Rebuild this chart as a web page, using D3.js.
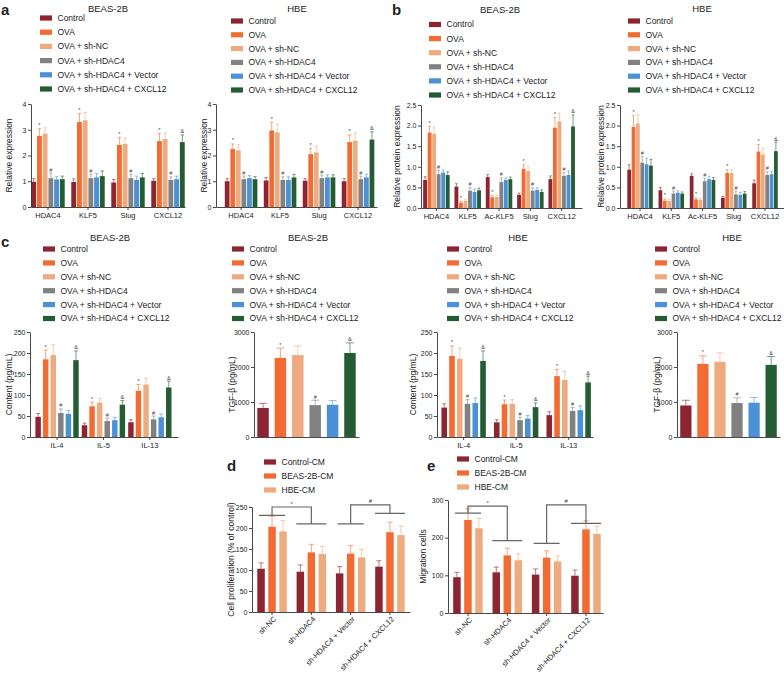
<!DOCTYPE html>
<html>
<head>
<meta charset="utf-8">
<script src="https://cdn.jsdelivr.net/npm/d3@7"></script>
<style>
  body { margin: 0; background: #fff; }
  svg { display: block; font-family: "Liberation Sans", Arial, sans-serif; }
</style>
</head>
<body>
<svg id="fig" width="784" height="679"></svg>
<script>
// ---- DATA ----
const groupNames = ["Control", "OVA", "OVA + sh-NC", "OVA + sh-HDAC4", "OVA + sh-HDAC4 + Vector", "OVA + sh-HDAC4 + CXCL12"];
const groupColors = ["#8c2431", "#f26b33", "#eeab80", "#818181", "#4b91d8", "#245c34"];
const cmNames = ["Control-CM", "BEAS-2B-CM", "HBE-CM"];
const cmColors = ["#8c2431", "#f26b33", "#eeab80"];

const genesA = ["HDAC4", "KLF5", "Slug", "CXCL12"];
const genesB = ["HDAC4", "KLF5", "Ac-KLF5", "Slug", "CXCL12"];
const cytokines = ["IL-4", "IL-5", "IL-13"];
const tgf = ["TGF-β"];
const treatments = ["sh-NC", "sh-HDAC4", "sh-HDAC4 + Vector", "sh-HDAC4 + CXCL12"];

const ticksA = [0, 1, 2, 3, 4];
const ticksB = [0, 0.5, 1, 1.5, 2, 2.5];
const ticksIL = [0, 50, 100, 150, 200, 250];
const ticksTGF = [0, 1000, 2000, 3000];
const ticksD = [0, 50, 100, 150, 200, 250];
const ticksE = [0, 100, 200, 300];

// significance marks above bars
const mk = ["", "*", "", "#", "", ""];
const mkC = ["", "*", "", "#", "", "&"];

// panel a
const aBeasMean = [[0.98, 2.76, 2.85, 1.12, 1.07, 1.08], [0.97, 3.30, 3.37, 1.12, 1.15, 1.20], [0.95, 2.41, 2.45, 1.12, 1.05, 1.15], [1.02, 2.56, 2.64, 1.05, 1.08, 2.52]];
const aBeasErr = [[0.12, 0.28, 0.23, 0.20, 0.12, 0.12], [0.12, 0.33, 0.30, 0.15, 0.15, 0.20], [0.12, 0.30, 0.23, 0.15, 0.15, 0.15], [0.08, 0.30, 0.23, 0.12, 0.12, 0.28]];
const aHbeMean = [[1.00, 2.25, 2.20, 1.08, 1.12, 1.08], [1.03, 2.97, 2.90, 1.05, 1.05, 1.15], [1.02, 2.05, 2.12, 1.12, 1.15, 1.15], [1.00, 2.52, 2.58, 1.08, 1.15, 2.62]];
const aHbeErr = [[0.10, 0.20, 0.22, 0.12, 0.10, 0.10], [0.12, 0.32, 0.32, 0.12, 0.12, 0.12], [0.08, 0.22, 0.25, 0.12, 0.10, 0.10], [0.10, 0.28, 0.30, 0.12, 0.12, 0.30]];
const aMarks = [mk, mk, mk, mkC];

// panel b
const bBeasMean = [[0.68, 1.83, 1.80, 0.82, 0.86, 0.80], [0.52, 0.13, 0.17, 0.42, 0.39, 0.43], [0.75, 0.26, 0.27, 0.63, 0.68, 0.70], [0.32, 0.95, 0.90, 0.42, 0.44, 0.39], [0.70, 1.95, 2.10, 0.78, 0.80, 1.98]];
const bBeasErr = [[0.08, 0.15, 0.17, 0.10, 0.06, 0.08], [0.07, 0.03, 0.03, 0.08, 0.07, 0.05], [0.06, 0.04, 0.04, 0.10, 0.05, 0.05], [0.04, 0.10, 0.12, 0.07, 0.05, 0.05], [0.08, 0.25, 0.20, 0.08, 0.10, 0.28]];
const bHbeMean = [[0.93, 1.97, 2.05, 1.10, 1.06, 1.03], [0.43, 0.18, 0.17, 0.35, 0.37, 0.35], [0.78, 0.21, 0.20, 0.65, 0.70, 0.68], [0.25, 0.85, 0.85, 0.33, 0.32, 0.35], [0.60, 1.37, 1.30, 0.80, 0.82, 1.38]];
const bHbeErr = [[0.12, 0.27, 0.22, 0.15, 0.15, 0.15], [0.07, 0.04, 0.04, 0.06, 0.05, 0.04], [0.05, 0.04, 0.04, 0.07, 0.07, 0.06], [0.03, 0.08, 0.08, 0.08, 0.06, 0.05], [0.08, 0.17, 0.15, 0.08, 0.07, 0.22]];
const bMarks = [mk, mk, mk, mk, mkC];

// panel c
const cBeasIL = [[48, 185, 195, 57, 55, 183], [28, 73, 82, 38, 40, 77], [35, 110, 125, 42, 47, 118]];
const cBeasILErr = [[8, 22, 25, 10, 8, 22], [5, 10, 10, 7, 7, 10], [6, 15, 15, 8, 8, 15]];
const cBeasTGF = [[830, 2260, 2340, 910, 920, 2400]];
const cBeasTGFErr = [[130, 280, 260, 140, 120, 290]];
const cHbeIL = [[70, 193, 186, 79, 81, 181], [35, 78, 79, 40, 44, 71], [52, 145, 136, 62, 64, 130]];
const cHbeILErr = [[9, 24, 26, 10, 12, 24], [6, 10, 10, 7, 7, 10], [8, 16, 20, 8, 10, 15]];
const cHbeTGF = [[900, 2090, 2150, 970, 980, 2060]];
const cHbeTGFErr = [[150, 230, 250, 150, 150, 240]];
const cMarksIL = [mkC, mkC, mkC];
const cMarksTGF = [mkC];

// panel d / e
const dMean = [[103, 203, 192], [96, 142, 138], [92, 139, 130], [108, 190, 183]];
const dErr = [[14, 25, 26], [16, 19, 18], [16, 19, 19], [14, 24, 22]];
const dBrackets = [{ from: 0, to: 1, left: 230, top: 250, right: 210, label: "*" }, { from: 2, to: 3, left: 210, top: 255, right: 235, label: "#" }];
const eMean = [[95, 247, 225], [108, 153, 140], [102, 147, 137], [99, 222, 210]];
const eErr = [[13, 30, 26], [14, 19, 17], [15, 18, 14], [15, 23, 20]];
const eBrackets = [{ from: 0, to: 1, left: 265, top: 284, right: 192, label: "*" }, { from: 2, to: 3, left: 185, top: 287, right: 238, label: "#" }];

// ---- DRAWING ----
const svg = d3.select("#fig");
const ink = "#222";

function label(x, y, str, size, opts = {}) {
  svg.append("text")
    .attr("x", x).attr("y", y)
    .attr("font-size", size)
    .attr("font-weight", opts.bold ? "bold" : null)
    .attr("text-anchor", opts.anchor || "start")
    .attr("fill", ink)
    .text(str);
}

function legend(x, y0, dy, names, colors) {
  const rows = svg.append("g").selectAll("g").data(names).join("g")
    .attr("transform", (d, i) => `translate(${x},${y0 + i * dy})`);
  rows.append("rect").attr("y", -2.6).attr("width", 12).attr("height", 5.2).attr("fill", (d, i) => colors[i]);
  rows.append("text").attr("x", 17.5).attr("dy", "0.35em").attr("font-size", 8.5).attr("fill", ink).text(d => d);
}

function barChart(c) {
  const g = svg.append("g");
  const x = d3.scaleBand().domain(c.cats).range([c.x0, c.x1])
    .paddingInner(c.pad[0]).paddingOuter(c.pad[1]).align(c.pad[2]);
  const xi = d3.scaleBand().domain(d3.range(c.colors.length)).range([0, x.bandwidth()])
    .paddingInner(c.inner[0]).paddingOuter(c.inner[1]);
  const y = d3.scaleLinear().domain([0, d3.max(c.ticks)]).range([c.yBot, c.yTop]);

  const cat = g.append("g").selectAll("g").data(c.cats).join("g")
    .attr("transform", d => `translate(${x(d)},0)`);

  cat.each(function (d, i) {
    const rows = c.means[i].map((v, j) => ({ v, e: c.errs[i][j], j, m: c.marks ? c.marks[i][j] : "" }));
    const s = d3.select(this);
    const w = xi.bandwidth();
    s.selectAll("line.err").data(rows).join("line").attr("class", "err")
      .attr("x1", r => xi(r.j) + w / 2).attr("x2", r => xi(r.j) + w / 2)
      .attr("y1", r => y(r.v)).attr("y2", r => y(r.v + r.e))
      .attr("stroke", r => c.colors[r.j]).attr("stroke-opacity", 0.75).attr("stroke-width", 0.8);
    s.selectAll("line.cap").data(rows).join("line").attr("class", "cap")
      .attr("x1", r => xi(r.j) + w * 0.15).attr("x2", r => xi(r.j) + w * 0.85)
      .attr("y1", r => y(r.v + r.e)).attr("y2", r => y(r.v + r.e))
      .attr("stroke", r => c.colors[r.j]).attr("stroke-opacity", 0.75).attr("stroke-width", 0.8);
    s.selectAll("rect").data(rows).join("rect")
      .attr("x", r => xi(r.j)).attr("width", w)
      .attr("y", r => y(r.v)).attr("height", r => c.yBot - y(r.v))
      .attr("fill", r => c.colors[r.j]);
    s.selectAll("text").data(rows.filter(r => r.m)).join("text")
      .attr("x", r => xi(r.j) + w / 2).attr("y", r => y(r.v + r.e) - 1.5)
      .attr("text-anchor", "middle").attr("font-size", 5.5).attr("fill", "#444")
      .text(r => r.m);
  });

  const ya = g.append("g").attr("transform", `translate(${c.x0},0)`)
    .call(d3.axisLeft(y).tickValues(c.ticks).tickFormat(c.fmt || d3.format("d"))
      .tickSize(3).tickSizeOuter(0).tickPadding(1.5));
  const xa = g.append("g").attr("transform", `translate(0,${c.yBot})`)
    .call(d3.axisBottom(x).tickSize(c.noX ? 0 : 3).tickSizeOuter(0).tickPadding(2.5));
  [ya, xa].forEach(a => {
    a.attr("font-family", null).attr("font-size", 7);
    a.selectAll("path, line").attr("stroke", "#333").attr("stroke-width", 0.9);
    a.selectAll("text").attr("fill", ink);
  });
  xa.attr("font-size", 7.5);
  if (c.noX) xa.selectAll(".tick text").remove();
  if (c.rotate) {
    xa.selectAll(".tick text")
      .attr("transform", "rotate(-45)")
      .attr("text-anchor", "end")
      .attr("x", -2).attr("y", 6).attr("dy", "0.35em");
  }

  svg.append("text")
    .attr("transform", `translate(${c.ylabX},${(c.yTop + c.yBot) / 2}) rotate(-90)`)
    .attr("text-anchor", "middle").attr("dy", "0.35em")
    .attr("font-size", 8.5).attr("fill", ink)
    .text(c.ylabel);

  if (c.brackets) {
    c.brackets.forEach(b => {
      const xl = x(c.cats[b.from]) + x.bandwidth() / 2;
      const xr = x(c.cats[b.to]) + x.bandwidth() / 2;
      const yl = y(b.left), yt = y(b.top), yr = y(b.right);
      g.append("path")
        .attr("d", `M${xl - 13},${yl}H${xl + 13}M${xl},${yl}V${yt}H${xr}V${yr}M${xr - 15},${yr}H${xr + 15}`)
        .attr("fill", "none").attr("stroke", "#666").attr("stroke-width", 1.2);
      g.append("text").attr("x", (xl + xr) / 2).attr("y", yt - 1.5)
        .attr("text-anchor", "middle").attr("font-size", 6).attr("fill", "#444").text(b.label);
    });
  }
}

// ---- panel a ----
label(1, 15, "a", 15, { bold: true });
label(108, 12, "BEAS-2B", 9.5, { anchor: "middle" });
legend(40, 18, 14.2, groupNames, groupColors);
barChart({ cats: genesA, means: aBeasMean, errs: aBeasErr, marks: aMarks, colors: groupColors,
  x0: 31, x1: 185, yTop: 104, yBot: 207, ticks: ticksA, pad: [0.15, 0, 0.5], inner: [0.15, 0.05],
  ylabel: "Relative expression", ylabX: 9 });

label(297, 12, "HBE", 9.5, { anchor: "middle" });
legend(231, 21, 13.8, groupNames, groupColors);
barChart({ cats: genesA, means: aHbeMean, errs: aHbeErr, marks: aMarks, colors: groupColors,
  x0: 216, x1: 377, yTop: 104, yBot: 207, ticks: ticksA, pad: [0.15, 0.14, 0.78], inner: [0.15, 0.05],
  ylabel: "Relative expression", ylabX: 204 });

// ---- panel b ----
label(392, 15, "b", 15, { bold: true });
label(500, 13, "BEAS-2B", 9.5, { anchor: "middle" });
legend(429, 24.5, 14.1, groupNames, groupColors);
barChart({ cats: genesB, means: bBeasMean, errs: bBeasErr, marks: bMarks, colors: groupColors,
  x0: 421, x1: 582, yTop: 105, yBot: 208, ticks: ticksB, fmt: d3.format(".1f"), pad: [0.14, 0.14, 0.22], inner: [0.15, 0.05],
  ylabel: "Relative protein expression", ylabX: 397 });

label(702, 12, "HBE", 9.5, { anchor: "middle" });
legend(628, 21, 13.8, groupNames, groupColors);
barChart({ cats: genesB, means: bHbeMean, errs: bHbeErr, marks: bMarks, colors: groupColors,
  x0: 620, x1: 784, yTop: 105, yBot: 208, ticks: ticksB, fmt: d3.format(".1f"), pad: [0.17, 0.21, 0.54], inner: [0.15, 0.05],
  ylabel: "Relative protein expression", ylabX: 601 });

// ---- panel c ----
label(1, 247, "c", 15, { bold: true });
label(110, 241, "BEAS-2B", 9.5, { anchor: "middle" });
legend(43, 249, 13.9, groupNames, groupColors);
barChart({ cats: cytokines, means: cBeasIL, errs: cBeasILErr, marks: cMarksIL, colors: groupColors,
  x0: 30, x1: 178, yTop: 332, yBot: 437, ticks: ticksIL, pad: [0.05, 0.12, 0.45], inner: [0.28, 0.05],
  ylabel: "Content (pg/mL)", ylabX: 9 });

label(308, 241, "BEAS-2B", 9.5, { anchor: "middle" });
legend(232, 249, 13.9, groupNames, groupColors);
barChart({ cats: tgf, means: cBeasTGF, errs: cBeasTGFErr, marks: cMarksTGF, colors: groupColors,
  x0: 254, x1: 359, yTop: 332, yBot: 437, ticks: ticksTGF, pad: [0, 0.01, 0.5], inner: [0.34, 0.13], noX: true,
  ylabel: "TGF-β (pg/mL)", ylabX: 232 });

label(518, 241, "HBE", 9.5, { anchor: "middle" });
legend(447, 249, 13.9, groupNames, groupColors);
barChart({ cats: cytokines, means: cHbeIL, errs: cHbeILErr, marks: cMarksIL, colors: groupColors,
  x0: 437, x1: 593, yTop: 332, yBot: 437, ticks: ticksIL, pad: [0.14, 0.055, 0.7], inner: [0.28, 0.05],
  ylabel: "Content (pg/mL)", ylabX: 413 });

label(732, 241, "HBE", 9.5, { anchor: "middle" });
legend(655, 249, 13.9, groupNames, groupColors);
barChart({ cats: tgf, means: cHbeTGF, errs: cHbeTGFErr, marks: cMarksTGF, colors: groupColors,
  x0: 677, x1: 780, yTop: 332, yBot: 437, ticks: ticksTGF, pad: [0, 0.01, 0.5], inner: [0.34, 0.13], noX: true,
  ylabel: "TGF-β (pg/mL)", ylabX: 657 });

// ---- panel d ----
label(227, 471, "d", 15, { bold: true });
legend(264, 462, 14, cmNames, cmColors);
barChart({ cats: treatments, means: dMean, errs: dErr, colors: cmColors, brackets: dBrackets,
  x0: 252, x1: 410, yTop: 507, yBot: 612, ticks: ticksD, pad: [0.16, 0.09, 0.5], inner: [0.32, 0.16], rotate: true,
  ylabel: "Cell proliferation (% of control)", ylabX: 231 });

// ---- panel e ----
label(427, 471, "e", 15, { bold: true });
legend(457, 459, 14, cmNames, cmColors);
barChart({ cats: treatments, means: eMean, errs: eErr, colors: cmColors, brackets: eBrackets,
  x0: 448, x1: 603, yTop: 500, yBot: 613, ticks: ticksE, pad: [0.16, 0.05, 0.87], inner: [0.32, 0.16], rotate: true,
  ylabel: "Migration cells", ylabX: 423 });
</script>
</body>
</html>
